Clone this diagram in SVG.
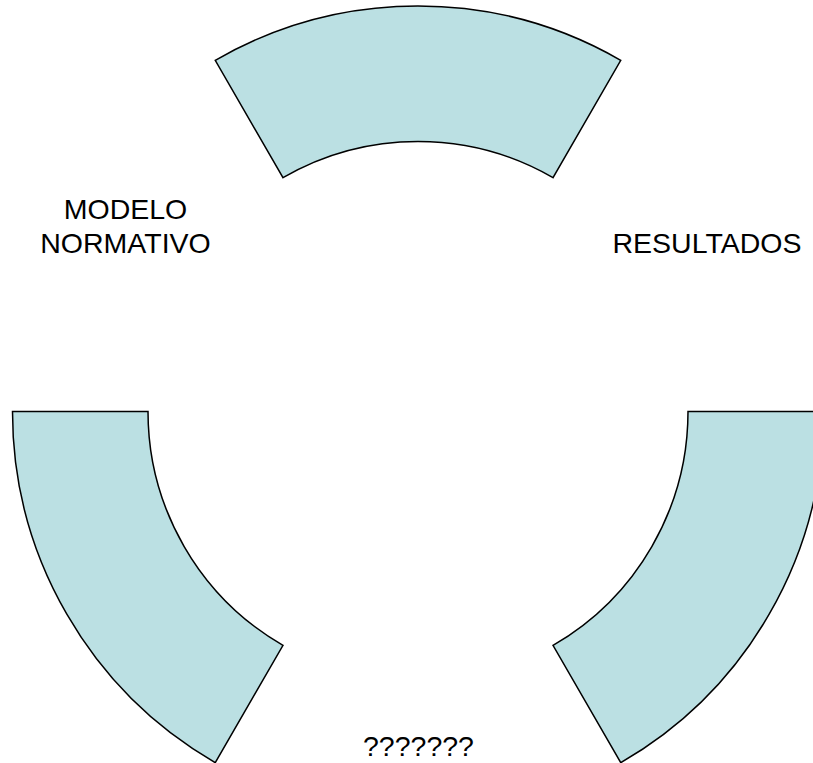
<svg xmlns="http://www.w3.org/2000/svg" width="813" height="763" viewBox="0 0 813 763">
<style>
.seg{fill:#BBE0E3;stroke:#000;stroke-width:1.5;stroke-linejoin:miter}
.lbl{font-family:"Liberation Sans",Arial,sans-serif;font-size:28.5px;fill:#000;text-anchor:middle}
</style>
<rect width="813" height="763" fill="#fff"/>
<g id="seg-top"><path class="seg" d="M215.25,60.33 A405.5,405.5 0 0 1 620.75,60.33 L553,177.67 A270,270 0 0 0 283,177.67 Z"/></g>
<g id="seg-left"><path class="seg" d="M12.5,411.5 L148,411.5 A270,270 0 0 0 283,645.33 L215.25,762.67 A405.5,405.5 0 0 1 12.5,411.5 Z"/></g>
<g id="seg-right"><path class="seg" d="M688,411.5 L823.5,411.5 A405.5,405.5 0 0 1 620.75,762.67 L553,645.33 A270,270 0 0 0 688,411.5 Z"/></g>
<g id="label-modelo"><text class="lbl" x="125.5" y="218.7">MODELO</text><text class="lbl" x="125.5" y="253.3">NORMATIVO</text></g>
<g id="label-resultados"><text class="lbl" x="707" y="253.3">RESULTADOS</text></g>
<g id="label-unknown"><text class="lbl" x="418.5" y="755.7">???????</text></g>
<g id="connectors"></g>
</svg>
